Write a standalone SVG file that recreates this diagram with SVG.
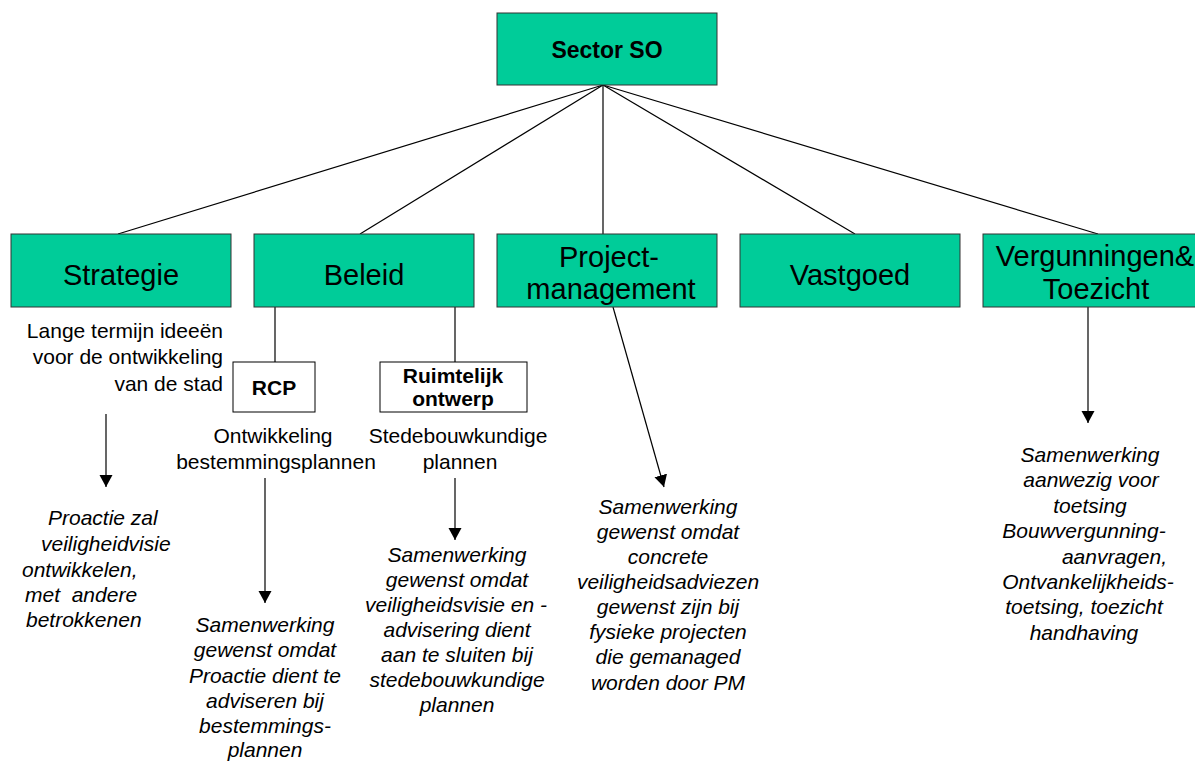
<svg xmlns="http://www.w3.org/2000/svg" width="1195" height="762" viewBox="0 0 1195 762">
<style>
  .box { fill: #00CC99; stroke: #333333; stroke-width: 1; }
  .wbox { fill: #FFFFFF; stroke: #000000; stroke-width: 1; }
  .big { font-family: "Liberation Sans", Arial, sans-serif; font-size: 29px; fill: #000; text-anchor: middle; }
  .bold { font-family: "Liberation Sans", Arial, sans-serif; font-weight: bold; fill: #000; text-anchor: middle; }
  .norm { font-family: "Liberation Sans", Arial, sans-serif; font-size: 21px; fill: #000; }
  .ital { font-family: "Liberation Sans", Arial, sans-serif; font-size: 21px; font-style: italic; fill: #000; }
  .c { text-anchor: middle; }
  .e { text-anchor: end; }
  .s { text-anchor: start; }
  .ln { stroke: #000; stroke-width: 1.2; fill: none; }
  .arr { stroke: #000; stroke-width: 1.2; fill: none; marker-end: url(#ah); }
</style>
<defs>
  <marker id="ah" markerUnits="userSpaceOnUse" markerWidth="14" markerHeight="14" refX="12" refY="6.5" orient="auto">
    <path d="M0,0 L12,6.5 L0,13 Z" fill="#000"/>
  </marker>
</defs>
<rect width="1195" height="762" fill="#FFFFFF"/>

<g id="connectors">
  <line class="ln" x1="603" y1="85" x2="118" y2="234"/>
  <line class="ln" x1="603" y1="85" x2="360" y2="234"/>
  <line class="ln" x1="603" y1="85" x2="603" y2="234"/>
  <line class="ln" x1="603" y1="85" x2="855" y2="234"/>
  <line class="ln" x1="603" y1="85" x2="1098" y2="234"/>
  <line class="ln" x1="275" y1="307" x2="275" y2="362"/>
  <line class="ln" x1="455" y1="307" x2="455" y2="362"/>
  <line class="arr" x1="106" y1="414" x2="106" y2="487"/>
  <line class="arr" x1="265" y1="478" x2="265" y2="603"/>
  <line class="arr" x1="455" y1="478" x2="455" y2="540"/>
  <line class="arr" x1="613" y1="307" x2="664" y2="487"/>
  <line class="arr" x1="1088" y1="307" x2="1088" y2="423"/>
</g>

<g id="sector-so">
  <rect class="box" x="497" y="13" width="220" height="72"/>
  <text class="bold" x="607" y="58" font-size="23">Sector SO</text>
</g>

<g id="strategie">
  <rect class="box" x="11" y="234" width="220" height="73"/>
  <text class="big" x="121" y="285">Strategie</text>
</g>
<g id="beleid">
  <rect class="box" x="254" y="234" width="220" height="73"/>
  <text class="big" x="364" y="285">Beleid</text>
</g>
<g id="projectmanagement">
  <rect class="box" x="497" y="234" width="220" height="73"/>
  <text class="big" x="609" y="267">Project-</text>
  <text class="big" x="611" y="299">management</text>
</g>
<g id="vastgoed">
  <rect class="box" x="740" y="234" width="220" height="73"/>
  <text class="big" x="850" y="285">Vastgoed</text>
</g>
<g id="vergunningen">
  <rect class="box" x="983" y="234" width="230" height="73"/>
  <text class="big" x="1095" y="266">Vergunningen&amp;</text>
  <text class="big" x="1096" y="299">Toezicht</text>
</g>

<g id="strategie-desc">
  <text class="norm e" x="223" y="338">Lange termijn ideeën</text>
  <text class="norm e" x="223" y="364">voor de ontwikkeling</text>
  <text class="norm e" x="223" y="391">van de stad</text>
</g>

<g id="rcp">
  <rect class="wbox" x="233" y="362" width="82" height="50"/>
  <text class="bold" x="274" y="395" font-size="21">RCP</text>
</g>
<g id="ruimtelijk-ontwerp">
  <rect class="wbox" x="380" y="362" width="147" height="50"/>
  <text class="bold" x="453" y="383" font-size="21">Ruimtelijk</text>
  <text class="bold" x="453" y="406" font-size="21">ontwerp</text>
</g>

<g id="rcp-desc">
  <text class="norm c" x="273" y="443">Ontwikkeling</text>
  <text class="norm c" x="276" y="469">bestemmingsplannen</text>
</g>
<g id="ruimtelijk-desc">
  <text class="norm c" x="458" y="443">Stedebouwkundige</text>
  <text class="norm c" x="460" y="469">plannen</text>
</g>

<g id="strategie-note">
  <text class="ital s" x="48" y="525">Proactie zal</text>
  <text class="ital s" x="41" y="551">veiligheidvisie</text>
  <text class="ital s" x="22" y="577">ontwikkelen,</text>
  <text class="ital s" x="25" y="602" xml:space="preserve">met  andere</text>
  <text class="ital s" x="26" y="627">betrokkenen</text>
</g>

<g id="rcp-note">
  <text class="ital c" x="265" y="632">Samenwerking</text>
  <text class="ital c" x="265" y="657">gewenst omdat</text>
  <text class="ital c" x="265" y="683">Proactie dient te</text>
  <text class="ital c" x="265" y="708">adviseren bij</text>
  <text class="ital c" x="265" y="733">bestemmings-</text>
  <text class="ital c" x="265" y="757">plannen</text>
</g>

<g id="ruimtelijk-note">
  <text class="ital c" x="457" y="562">Samenwerking</text>
  <text class="ital c" x="457" y="587">gewenst omdat</text>
  <text class="ital c" x="456" y="612">veiligheidsvisie en -</text>
  <text class="ital c" x="457" y="637">advisering dient</text>
  <text class="ital c" x="457" y="662">aan te sluiten bij</text>
  <text class="ital c" x="457" y="687">stedebouwkundige</text>
  <text class="ital c" x="457" y="712">plannen</text>
</g>

<g id="project-note">
  <text class="ital c" x="668" y="514">Samenwerking</text>
  <text class="ital c" x="668" y="539">gewenst omdat</text>
  <text class="ital c" x="668" y="564">concrete</text>
  <text class="ital c" x="668" y="589">veiligheidsadviezen</text>
  <text class="ital c" x="668" y="614">gewenst zijn bij</text>
  <text class="ital c" x="668" y="639">fysieke projecten</text>
  <text class="ital c" x="668" y="664">die gemanaged</text>
  <text class="ital c" x="668" y="690">worden door PM</text>
</g>

<g id="vergunningen-note">
  <text class="ital c" x="1090" y="462">Samenwerking</text>
  <text class="ital c" x="1091" y="487">aanwezig voor</text>
  <text class="ital c" x="1090" y="513">toetsing</text>
  <text class="ital c" x="1084" y="538">Bouwvergunning-</text>
  <text class="ital e" x="1167" y="564">aanvragen,</text>
  <text class="ital c" x="1088" y="589">Ontvankelijkheids-</text>
  <text class="ital c" x="1084" y="614">toetsing, toezicht</text>
  <text class="ital c" x="1084" y="640">handhaving</text>
</g>
</svg>
